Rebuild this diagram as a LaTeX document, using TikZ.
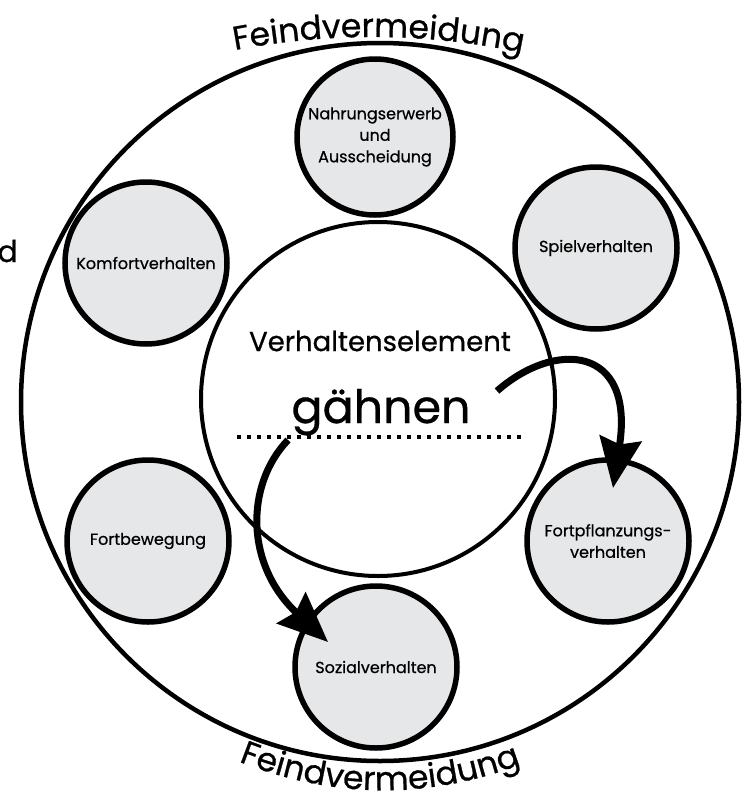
\documentclass[tikz,border=0pt]{standalone}
\usepackage{fontspec}
\setmainfont{Poppins}[FakeBold=0.7]
\usetikzlibrary{arrows.meta,decorations.text,calc}
\definecolor{circfill}{HTML}{E6E7E8}
\newcommand{\lblfont}{\fontsize{16}{21.5}\selectfont}
\newcommand{\titlefont}{\fontsize{33}{33}\selectfont}
\tikzset{
  smallcirc/.style={circle, draw=black, line width=5.5pt, fill=circfill, minimum size=162pt, inner sep=0pt, align=center, font=\lblfont},
  bigarrow/.style={line width=7pt, -{Stealth[length=50pt,width=42pt,inset=6pt]}},
  dotline/.style={line width=4pt, dash pattern=on 4pt off 6pt},
  bigring/.style={circle, draw=black, inner sep=0pt},
}
\begin{document}
\begin{tikzpicture}[x=1pt,y=-1pt]
\useasboundingbox (0,0) rectangle (745,798);
\fill[white] (0,0) rectangle (745,798);
% rings
\node[bigring, line width=4.5pt, minimum size=718pt] (outer) at (380,402) {};
\node[bigring, line width=4pt, minimum size=354pt, fill=white] (inner) at (378,399) {};
% behaviour circles
\node[smallcirc, minimum size=156pt] (nahr) at (375,137) {Nahrungserwerb\\und\\Ausscheidung};
\node[smallcirc] (spiel) at (596,248) {Spielverhalten};
\node[smallcirc] (komf) at (146,263) {Komfortverhalten};
\node[smallcirc] (fortb) at (148,541) {Fortbewegung};
\node[smallcirc] (fortpf) at (608,541) {Fortpflanzungs-\\verhalten};
\node[smallcirc] (sozial) at (376,667) {Sozialverhalten};
% centre texts
\node[font=\fontsize{27.5}{30}\selectfont] (verh) at (380,341) {Verhaltenselement};
\node[font=\fontsize{46}{50}\selectfont, anchor=base, inner sep=0pt] (gaehnen) at (381,423) {gähnen};
\coordinate (dl1) at (237,437);
\coordinate (dl2) at (523,437);
\draw[dotline] (dl1) -- (dl2);
% cut text at the left edge
\node[font=\fontsize{30}{30}\selectfont, anchor=base east, inner sep=0pt] (dcut) at (18,262) {d};
% curved titles
\path[decorate, decoration={text along path, text align=center, text={|\titlefont|Feindvermeidung}}]
  (220,53) .. controls (327.3,30.7) and (431.7,31.7) .. (537,56);
\path[decorate, decoration={text along path, text align=center, text={|\titlefont|Feindvermeidung}}]
  (230,758) .. controls (330.7,800) and (429.3,801) .. (530,761);
% arrows
\coordinate (a1s) at (497,391);
\coordinate (a2s) at (288,440);
\draw[bigarrow] (a1s) .. controls (555,340) and (635,345) .. ($(fortpf)+(5,-53)$);
\draw[bigarrow] (a2s) .. controls (245,485) and (245,565) .. ($(sozial)+(-48,-25)$);
\end{tikzpicture}
\end{document}
